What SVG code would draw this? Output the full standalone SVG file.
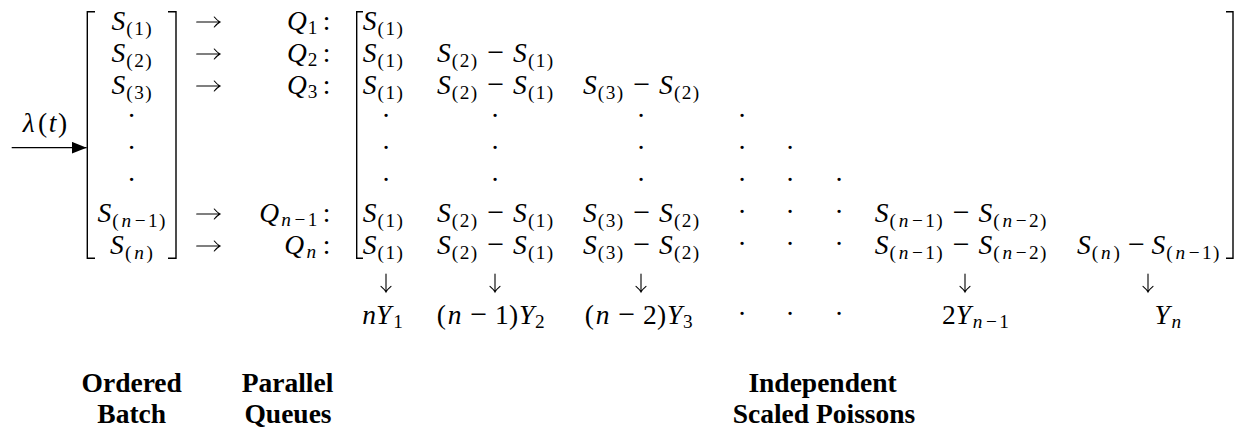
<svg xmlns="http://www.w3.org/2000/svg" width="1238" height="429" viewBox="0 0 1238 429" font-family="Liberation Serif, serif">
<style>
text{font-family:'Liberation Serif','Times New Roman',serif;fill:#000}
.r{font-size:27.5px}
.i{font-style:italic}
.sb{font-size:19.25px}
.mn{font-size:30px;font-style:normal}
.d{font-size:27.5px;text-anchor:middle}
.lb{font-size:27.5px;font-weight:bold;text-anchor:middle}
.br{fill:none;stroke:#000;stroke-width:1.4}
.ar{fill:none;stroke:#000;stroke-width:1.1;stroke-linecap:round}
</style>
<defs>
<marker id="tri" markerUnits="userSpaceOnUse" markerWidth="15" markerHeight="12" viewBox="0 0 15 12" refX="15" refY="6" orient="auto"><path d="M0,0 L15,6 L0,12 z" fill="#000"/></marker>
</defs>
<rect width="1238" height="429" fill="#fff"/>

<g id="input-label">
<text class="r"><tspan class="i" x="22.8" y="132">λ</tspan><tspan x="38">(</tspan><tspan class="i" x="48.8">t</tspan><tspan x="58">)</tspan></text>
</g>

<g id="ordered-batch">
<path class="br" d="M95,11.7 H87.3 V258.3 H95"/>
<path class="br" d="M168,11.7 H176 V258.3 H168"/>
<text class="r"><tspan class="i" x="111.4" y="30">S</tspan><tspan class="sb" x="126.26 134.19 145.23" y="34.8">(1)</tspan></text>
<text class="r"><tspan class="i" x="111.4" y="62">S</tspan><tspan class="sb" x="126.26 134.19 145.23" y="66.8">(2)</tspan></text>
<text class="r"><tspan class="i" x="111.4" y="94">S</tspan><tspan class="sb" x="126.26 134.19 145.23" y="98.8">(3)</tspan></text>
<text class="d" x="131.5" y="124.9">·</text>
<text class="d" x="131.5" y="156.9">·</text>
<text class="d" x="131.5" y="188.9">·</text>
<text class="r"><tspan class="i" x="97.5" y="222">S</tspan><tspan class="sb" x="112.36" y="226.8">(</tspan><tspan class="sb i" x="121.57">n</tspan><tspan class="sb" x="134.82 147.98 159.02">−1)</tspan></text>
<text class="r"><tspan class="i" x="110.1" y="254">S</tspan><tspan class="sb" x="124.96" y="258.8">(</tspan><tspan class="sb i" x="134.17">n</tspan><tspan class="sb" x="146.49">)</tspan></text>
</g>

<g id="parallel-queues">
<text class="r"><tspan class="i" x="286.9" y="30">Q</tspan><tspan class="sb" x="307.7" y="34">1</tspan><tspan x="322.7" y="30">:</tspan></text>
<text class="r"><tspan class="i" x="286.9" y="62">Q</tspan><tspan class="sb" x="307.7" y="66">2</tspan><tspan x="322.7" y="62">:</tspan></text>
<text class="r"><tspan class="i" x="286.9" y="94">Q</tspan><tspan class="sb" x="307.7" y="98">3</tspan><tspan x="322.7" y="94">:</tspan></text>
<text class="r"><tspan class="i" x="259.2" y="222">Q</tspan><tspan class="sb i" x="281.32" y="226">n</tspan><tspan class="sb" x="294.57 307.73">−1</tspan><tspan x="322.7" y="222">:</tspan></text>
<text class="r"><tspan class="i" x="284.3" y="254">Q</tspan><tspan class="sb i" x="306.42" y="258">n</tspan><tspan x="322.7" y="254">:</tspan></text>
</g>

<g id="queue-matrix">
<path class="br" d="M363,11.7 H356.7 V258.3 H363"/>
<path class="br" d="M1226,11.7 H1233 V258.3 H1226"/>
<text class="r"><tspan class="i" x="362.7" y="30">S</tspan><tspan class="sb" x="377.56 385.49 396.53" y="34.8">(1)</tspan></text>
<text class="r"><tspan class="i" x="362.7" y="62">S</tspan><tspan class="sb" x="377.56 385.49 396.53" y="66.8">(1)</tspan></text>
<text class="r"><tspan class="i" x="362.7" y="94">S</tspan><tspan class="sb" x="377.56 385.49 396.53" y="98.8">(1)</tspan></text>
<text class="r"><tspan class="i" x="362.7" y="222">S</tspan><tspan class="sb" x="377.56 385.49 396.53" y="226.8">(1)</tspan></text>
<text class="r"><tspan class="i" x="362.7" y="254">S</tspan><tspan class="sb" x="377.56 385.49 396.53" y="258.8">(1)</tspan></text>
<text class="r"><tspan class="i" x="437" y="62">S</tspan><tspan class="sb" x="451.86 459.79 470.83" y="66.8">(2)</tspan><tspan class="mn" x="487.3" y="62">−</tspan><tspan class="i" x="513.04">S</tspan><tspan class="sb" x="527.9 535.83 546.87" y="66.8">(1)</tspan></text>
<text class="r"><tspan class="i" x="437" y="94">S</tspan><tspan class="sb" x="451.86 459.79 470.83" y="98.8">(2)</tspan><tspan class="mn" x="487.3" y="94">−</tspan><tspan class="i" x="513.04">S</tspan><tspan class="sb" x="527.9 535.83 546.87" y="98.8">(1)</tspan></text>
<text class="r"><tspan class="i" x="437" y="222">S</tspan><tspan class="sb" x="451.86 459.79 470.83" y="226.8">(2)</tspan><tspan class="mn" x="487.3" y="222">−</tspan><tspan class="i" x="513.04">S</tspan><tspan class="sb" x="527.9 535.83 546.87" y="226.8">(1)</tspan></text>
<text class="r"><tspan class="i" x="437" y="254">S</tspan><tspan class="sb" x="451.86 459.79 470.83" y="258.8">(2)</tspan><tspan class="mn" x="487.3" y="254">−</tspan><tspan class="i" x="513.04">S</tspan><tspan class="sb" x="527.9 535.83 546.87" y="258.8">(1)</tspan></text>
<text class="r"><tspan class="i" x="583" y="94">S</tspan><tspan class="sb" x="597.86 605.79 616.83" y="98.8">(3)</tspan><tspan class="mn" x="633.3" y="94">−</tspan><tspan class="i" x="659.04">S</tspan><tspan class="sb" x="673.9 681.83 692.87" y="98.8">(2)</tspan></text>
<text class="r"><tspan class="i" x="583" y="222">S</tspan><tspan class="sb" x="597.86 605.79 616.83" y="226.8">(3)</tspan><tspan class="mn" x="633.3" y="222">−</tspan><tspan class="i" x="659.04">S</tspan><tspan class="sb" x="673.9 681.83 692.87" y="226.8">(2)</tspan></text>
<text class="r"><tspan class="i" x="583" y="254">S</tspan><tspan class="sb" x="597.86 605.79 616.83" y="258.8">(3)</tspan><tspan class="mn" x="633.3" y="254">−</tspan><tspan class="i" x="659.04">S</tspan><tspan class="sb" x="673.9 681.83 692.87" y="258.8">(2)</tspan></text>
<text class="d" x="386" y="124.9">·</text><text class="d" x="495" y="124.9">·</text><text class="d" x="641" y="124.9">·</text><text class="d" x="742" y="124.9">·</text>
<text class="d" x="386" y="156.9">·</text><text class="d" x="495" y="156.9">·</text><text class="d" x="641" y="156.9">·</text><text class="d" x="742" y="156.9">·</text><text class="d" x="790" y="156.9">·</text>
<text class="d" x="386" y="188.9">·</text><text class="d" x="495" y="188.9">·</text><text class="d" x="641" y="188.9">·</text><text class="d" x="742" y="188.9">·</text><text class="d" x="790" y="188.9">·</text><text class="d" x="839" y="188.9">·</text>
<text class="d" x="742" y="220.9">·</text><text class="d" x="790" y="220.9">·</text><text class="d" x="839" y="220.9">·</text>
<text class="d" x="742" y="252.9">·</text><text class="d" x="790" y="252.9">·</text><text class="d" x="839" y="252.9">·</text>
<text class="r"><tspan class="i" x="874.7" y="222">S</tspan><tspan class="sb" x="889.56" y="226.8">(</tspan><tspan class="sb i" x="898.77">n</tspan><tspan class="sb" x="912.02 925.18 936.22">−1)</tspan><tspan class="mn" x="952.7" y="222">−</tspan><tspan class="i" x="978.43">S</tspan><tspan class="sb" x="993.29" y="226.8">(</tspan><tspan class="sb i" x="1002.5">n</tspan><tspan class="sb" x="1015.75 1028.91 1039.95">−2)</tspan></text>
<text class="r"><tspan class="i" x="874.7" y="254">S</tspan><tspan class="sb" x="889.56" y="258.8">(</tspan><tspan class="sb i" x="898.77">n</tspan><tspan class="sb" x="912.02 925.18 936.22">−1)</tspan><tspan class="mn" x="952.7" y="254">−</tspan><tspan class="i" x="978.43">S</tspan><tspan class="sb" x="993.29" y="258.8">(</tspan><tspan class="sb i" x="1002.5">n</tspan><tspan class="sb" x="1015.75 1028.91 1039.95">−2)</tspan></text>
<text class="r"><tspan class="i" x="1077" y="254">S</tspan><tspan class="sb" x="1091.86" y="258.8">(</tspan><tspan class="sb i" x="1101.07">n</tspan><tspan class="sb" x="1113.39">)</tspan><tspan class="mn" x="1128" y="254">−</tspan><tspan class="i" x="1151.5">S</tspan><tspan class="sb" x="1166.36" y="258.8">(</tspan><tspan class="sb i" x="1175.57">n</tspan><tspan class="sb" x="1188.82 1201.98 1213.02">−1)</tspan></text>
</g>

<g id="scaled-poissons">
<text class="r"><tspan class="i" x="362.3" y="324">nY</tspan><tspan class="sb" x="393.2" y="328">1</tspan></text>
<text class="r"><tspan x="436.7" y="324">(</tspan><tspan class="i" x="447.7">n</tspan><tspan class="mn" x="470.2">−</tspan><tspan x="494.97 509.04">1)</tspan><tspan class="i" x="519.1">Y</tspan><tspan class="sb" x="534.9" y="328">2</tspan></text>
<text class="r"><tspan x="584.7" y="324">(</tspan><tspan class="i" x="595.7">n</tspan><tspan class="mn" x="618.2">−</tspan><tspan x="642.97 657.04">2)</tspan><tspan class="i" x="667.1">Y</tspan><tspan class="sb" x="682.9" y="328">3</tspan></text>
<text class="d" x="742" y="322.9">·</text><text class="d" x="790" y="322.9">·</text><text class="d" x="839" y="322.9">·</text>
<text class="r"><tspan x="942" y="324">2</tspan><tspan class="i" x="955.7">Y</tspan><tspan class="sb i" x="972.82" y="328">n</tspan><tspan class="sb" x="986.07 999.23">−1</tspan></text>
<text class="r"><tspan class="i" x="1154.4" y="324">Y</tspan><tspan class="sb i" x="1171.5" y="328">n</tspan></text>
</g>

<g id="connectors">
<line x1="11.7" y1="147.7" x2="86.6" y2="147.7" stroke="#000" stroke-width="1.3" marker-end="url(#tri)"/>
<path class="ar" d="M196.7,22 H220 M214.3,17 Q217.3,20.6 220,22 Q217.3,23.4 214.3,27"/>
<path class="ar" d="M196.7,54 H220 M214.3,49 Q217.3,52.6 220,54 Q217.3,55.4 214.3,59"/>
<path class="ar" d="M196.7,86 H220 M214.3,81 Q217.3,84.6 220,86 Q217.3,87.4 214.3,91"/>
<path class="ar" d="M196.7,214 H220 M214.3,209 Q217.3,212.6 220,214 Q217.3,215.4 214.3,219"/>
<path class="ar" d="M196.7,246 H220 M214.3,241 Q217.3,244.6 220,246 Q217.3,247.4 214.3,251"/>
<path class="ar" d="M386,274 V292 M381,286.3 Q384.6,289.3 386,292 Q387.4,289.3 391,286.3"/>
<path class="ar" d="M495,274 V292 M490,286.3 Q493.6,289.3 495,292 Q496.4,289.3 500,286.3"/>
<path class="ar" d="M641,274 V292 M636,286.3 Q639.6,289.3 641,292 Q642.4,289.3 646,286.3"/>
<path class="ar" d="M965,274 V292 M960,286.3 Q963.6,289.3 965,292 Q966.4,289.3 970,286.3"/>
<path class="ar" d="M1148,274 V292 M1143,286.3 Q1146.6,289.3 1148,292 Q1149.4,289.3 1153,286.3"/>
</g>

<g id="captions">
<text class="lb" x="131.7" y="392">Ordered</text>
<text class="lb" x="131.7" y="423">Batch</text>
<text class="lb" x="287.5" y="392">Parallel</text>
<text class="lb" x="288" y="423">Queues</text>
<text class="lb" x="822.5" y="392">Independent</text>
<text class="lb" x="824" y="423">Scaled Poissons</text>
</g>
</svg>
